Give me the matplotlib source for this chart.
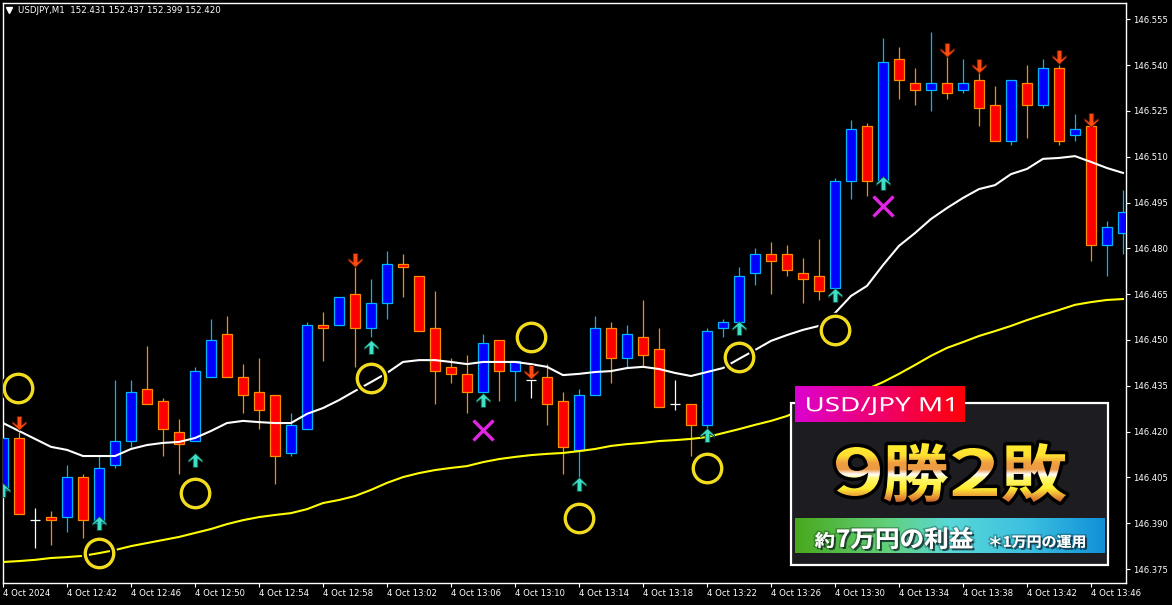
import numpy as np
import matplotlib
matplotlib.use('Agg')
import matplotlib.pyplot as plt
from matplotlib.path import Path
from matplotlib.patches import PathPatch, Rectangle
from matplotlib.textpath import TextPath
from matplotlib.font_manager import FontProperties
from matplotlib.transforms import Affine2D
from matplotlib.colors import LinearSegmentedColormap
import matplotlib.patheffects as pe

# USDJPY M1, 4 Oct 2024, bars 12:38 .. 13:48
opens = [146.401, 146.418, 146.391, 146.392, 146.392, 146.405, 146.390, 146.409, 146.417, 146.434,
         146.430, 146.420, 146.417, 146.438, 146.452, 146.438, 146.433, 146.432, 146.413, 146.421,
         146.455, 146.455, 146.465, 146.454, 146.462, 146.475, 146.471, 146.454, 146.441, 146.439,
         146.433, 146.450, 146.440, 146.437, 146.438, 146.430, 146.414, 146.432, 146.454, 146.444,
         146.451, 146.447, 146.429, 146.429, 146.422, 146.454, 146.456, 146.472, 146.478, 146.478,
         146.472, 146.471, 146.467, 146.502, 146.520, 146.502, 146.542, 146.534, 146.532, 146.534,
         146.532, 146.535, 146.527, 146.515, 146.534, 146.527, 146.539, 146.517, 146.520, 146.481,
         146.485]
highs = [146.419, 146.420, 146.395, 146.394, 146.409, 146.406, 146.412, 146.437, 146.437, 146.448,
         146.431, 146.424, 146.441, 146.457, 146.458, 146.442, 146.444, 146.432, 146.426, 146.456,
         146.459, 146.464, 146.475, 146.470, 146.479, 146.478, 146.471, 146.466, 146.444, 146.445,
         146.452, 146.450, 146.443, 146.437, 146.442, 146.433, 146.434, 146.458, 146.456, 146.455,
         146.463, 146.454, 146.437, 146.429, 146.454, 146.457, 146.474, 146.480, 146.482, 146.481,
         146.477, 146.483, 146.503, 146.522, 146.521, 146.549, 146.546, 146.539, 146.551, 146.543,
         146.542, 146.538, 146.533, 146.535, 146.540, 146.542, 146.540, 146.524, 146.521, 146.489,
         146.499]
lows = [146.400, 146.393, 146.382, 146.383, 146.387, 146.385, 146.390, 146.408, 146.415, 146.429,
        146.412, 146.406, 146.417, 146.438, 146.438, 146.426, 146.421, 146.403, 146.412, 146.421,
        146.443, 146.455, 146.441, 146.451, 146.457, 146.464, 146.453, 146.429, 146.436, 146.426,
        146.433, 146.430, 146.430, 146.431, 146.422, 146.406, 146.405, 146.432, 146.436, 146.441,
        146.441, 146.428, 146.427, 146.412, 146.421, 146.451, 146.456, 146.468, 146.465, 146.471,
        146.462, 146.463, 146.467, 146.496, 146.497, 146.502, 146.529, 146.527, 146.525, 146.529,
        146.531, 146.520, 146.515, 146.514, 146.516, 146.526, 146.514, 146.515, 146.476, 146.471,
        146.478]
closes = [146.418, 146.393, 146.391, 146.391, 146.405, 146.391, 146.408, 146.417, 146.433, 146.429,
          146.421, 146.416, 146.440, 146.450, 146.438, 146.432, 146.427, 146.412, 146.422, 146.455,
          146.454, 146.464, 146.454, 146.462, 146.475, 146.474, 146.453, 146.440, 146.439, 146.433,
          146.449, 146.440, 146.443, 146.437, 146.429, 146.415, 146.432, 146.454, 146.444, 146.452,
          146.445, 146.428, 146.429, 146.422, 146.453, 146.456, 146.471, 146.478, 146.476, 146.473,
          146.470, 146.466, 146.502, 146.519, 146.502, 146.541, 146.535, 146.532, 146.534, 146.531,
          146.534, 146.526, 146.515, 146.535, 146.527, 146.539, 146.515, 146.519, 146.481, 146.487,
          146.492]

# moving averages (white = fast, yellow = slow)
ma_fast = [146.4228, 146.4202, 146.4176, 146.4150, 146.4140, 146.4120, 146.4120, 146.4120, 146.4143, 146.4156,
           146.4163, 146.4166, 146.4179, 146.4202, 146.4228, 146.4235, 146.4231, 146.4228, 146.4228, 146.4258,
           146.4277, 146.4303, 146.4333, 146.4362, 146.4392, 146.4428, 146.4434, 146.4434, 146.4428, 146.4421,
           146.4428, 146.4428, 146.4428, 146.4421, 146.4412, 146.4385, 146.4389, 146.4395, 146.4398, 146.4408,
           146.4412, 146.4405, 146.4392, 146.4382, 146.4395, 146.4408, 146.4438, 146.4467, 146.4497, 146.4516,
           146.4533, 146.4546, 146.4588, 146.4644, 146.4677, 146.4745, 146.4808, 146.4850, 146.4896, 146.4932,
           146.4965, 146.4994, 146.5007, 146.5043, 146.5060, 146.5093, 146.5096, 146.5102, 146.5083, 146.5063,
           146.5047]
ma_slow = [146.3773, 146.3776, 146.3780, 146.3786, 146.3789, 146.3793, 146.3802, 146.3812, 146.3825, 146.3835,
           146.3845, 146.3855, 146.3868, 146.3881, 146.3897, 146.3910, 146.3920, 146.3927, 146.3933, 146.3946,
           146.3966, 146.3976, 146.3989, 146.4009, 146.4032, 146.4051, 146.4064, 146.4074, 146.4081, 146.4087,
           146.4100, 146.4110, 146.4117, 146.4123, 146.4127, 146.4130, 146.4136, 146.4143, 146.4153, 146.4159,
           146.4163, 146.4169, 146.4172, 146.4176, 146.4182, 146.4195, 146.4208, 146.4222, 146.4235, 146.4251,
           146.4274, 146.4290, 146.4307, 146.4323, 146.4339, 146.4362, 146.4389, 146.4418, 146.4448, 146.4474,
           146.4493, 146.4513, 146.4529, 146.4546, 146.4565, 146.4582, 146.4598, 146.4615, 146.4624, 146.4631,
           146.4634]

# signals
up_bars = [0, 6, 12, 23, 30, 36, 44, 46, 52, 55]
up_prices = [146.4009, 146.3901, 146.4107, 146.4477, 146.4303, 146.4028, 146.4189, 146.4539, 146.4647, 146.5014]
down_bars = [1, 22, 33, 59, 61, 66, 68]
down_prices = [146.4228, 146.4762, 146.4395, 146.5450, 146.5397, 146.5427, 146.5220]
win_bars = [0.94, 6, 12, 23, 33, 36, 44, 46, 52]
win_prices = [146.4343, 146.3802, 146.4000, 146.4375, 146.4510, 146.3917, 146.4082, 146.4444, 146.4533]
loss_bars = [30, 55]
loss_prices = [146.4205, 146.4939]

tick_bars = list(range(0, 71, 4))
tick_labels = ['4 Oct 2024', '4 Oct 12:42', '4 Oct 12:46', '4 Oct 12:50', '4 Oct 12:54', '4 Oct 12:58',
               '4 Oct 13:02', '4 Oct 13:06', '4 Oct 13:10', '4 Oct 13:14', '4 Oct 13:18', '4 Oct 13:22',
               '4 Oct 13:26', '4 Oct 13:30', '4 Oct 13:34', '4 Oct 13:38', '4 Oct 13:42', '4 Oct 13:46']
price_ticks = [146.375, 146.390, 146.405, 146.420, 146.435, 146.450, 146.465, 146.480, 146.495, 146.510,
               146.525, 146.540, 146.555]

header = 'USDJPY,M1  152.431 152.437 152.399 152.420'
tag_text = 'USD/JPY M1'

W, H = 1172, 605
BULL_EDGE = '#00B4FF'
BEAR_EDGE = '#FF8C00'

fig = plt.figure(figsize=(W / 100, H / 100), dpi=100, facecolor='black')
ax = fig.add_axes([2.5 / W, 22 / H, 1123.5 / W, 580.5 / H])
ax.set_facecolor('black')

x = np.arange(len(opens))
o, h, l, c = map(np.array, (opens, highs, lows, closes))
up = c > o + 1e-9
dn = c < o - 1e-9
dj = ~(up | dn)
bw = 0.66

ax.vlines(x[up], l[up], h[up], color=BULL_EDGE, lw=0.9, zorder=2)
ax.bar(x[up], c[up] - o[up], bottom=o[up], width=bw, color='#0000FF',
       edgecolor=BULL_EDGE, linewidth=0.9, zorder=3)
ax.vlines(x[dn], l[dn], h[dn], color=BEAR_EDGE, lw=0.9, zorder=2)
ax.bar(x[dn], o[dn] - c[dn], bottom=c[dn], width=bw, color='#FF0000',
       edgecolor=BEAR_EDGE, linewidth=0.9, zorder=3)
ax.vlines(x[dj], l[dj], h[dj], color='white', lw=0.9, zorder=2)
ax.hlines(o[dj], x[dj] - bw / 2, x[dj] + bw / 2, color='white', lw=0.9, zorder=3)

ax.plot(x, ma_fast, color='white', lw=1.5, zorder=4)
ax.plot(x, ma_slow, color='#FFFF00', lw=1.5, zorder=4)

up_arrow = Path([(0, 0.5), (0.5, 0.02), (0.5, -0.14), (0.17, 0.12), (0.17, -0.5),
                 (-0.17, -0.5), (-0.17, 0.12), (-0.5, -0.14), (-0.5, 0.02), (0, 0.5)])
down_arrow = Path([(vx, -vy) for vx, vy in up_arrow.vertices])
ax.plot(up_bars, up_prices, ls='none', marker=up_arrow, ms=10, color='#40E0C8',
        mec='#0b4a3a', mew=0.6, zorder=6)
ax.plot(down_bars, down_prices, ls='none', marker=down_arrow, ms=10, color='#FF4A10',
        mec='#5a1500', mew=0.6, zorder=6)
ax.plot(win_bars, win_prices, ls='none', marker='o', ms=20.5, mfc='none', mec='black', mew=5, zorder=5)
ax.plot(win_bars, win_prices, ls='none', marker='o', ms=20.5, mfc='none', mec='#F2DC1E', mew=2.4, zorder=5)
ax.plot(loss_bars, loss_prices, ls='none', marker='x', ms=15, mec='#E424E4', mew=2.4, zorder=6)

ax.set_xlim(-0.5 / 16, 70.19)
ax.set_ylim(146.37042, 146.5605)
for side in ('top', 'right', 'bottom', 'left'):
    ax.spines[side].set_color('white')
    ax.spines[side].set_linewidth(1)

ax.yaxis.tick_right()
ax.set_yticks(price_ticks)
ax.set_yticklabels(['%.3f' % p for p in price_ticks])
ax.set_xticks(tick_bars)
ax.set_xticklabels(tick_labels, ha='left')
ax.tick_params(axis='both', colors='white', labelcolor='white', labelsize=6.1, length=3, width=0.8)
ax.tick_params(axis='x', pad=1.5)
ax.tick_params(axis='y', pad=2)

# overlay in pixel coordinates
ov = fig.add_axes([0, 0, 1, 1])
ov.set_axis_off()
ov.patch.set_visible(False)

ov.text(18, 10.7, header, color='white', fontsize=6.2, va='center', ha='left')
ov.plot([8.5], [10.3], marker='v', ms=4.5, color='white')


def glyph_path(s, prop, x0, y0, x1, y1):
    tp = TextPath((0, 0), s, size=100, prop=prop)
    bb = tp.get_extents()
    tr = (Affine2D().translate(-bb.x0, -bb.y1)
          .scale((x1 - x0) / bb.width, -(y1 - y0) / bb.height)
          .translate(x0, y0))
    return tr.transform_path(tp)


jp_bold = FontProperties(family='Noto Sans CJK JP', weight='bold')
latin = FontProperties(family='Noto Sans', weight='normal')

# panel
ov.add_patch(Rectangle((791, 402.5), 317, 162.5, facecolor='#1c1c21', edgecolor='white', lw=1.6, zorder=1))

tag_cmap = LinearSegmentedColormap.from_list('tag', ['#DC00D0', '#FF0008'])
ov.imshow(np.linspace(0, 1, 256)[None, :], cmap=tag_cmap, extent=(795, 965, 422, 386),
          aspect='auto', zorder=2, interpolation='bilinear')
ov.add_patch(PathPatch(glyph_path(tag_text, latin, 807, 397, 953, 415), fc='white', ec='none', zorder=3))

band_cmap = LinearSegmentedColormap.from_list('band', [(0, '#48A81C'), (0.3, '#62D07C'), (0.5, '#58D8D8'),
                                                        (0.75, '#3CC0E0'), (1, '#1290D8')])
ov.imshow(np.linspace(0, 1, 256)[None, :], cmap=band_cmap, extent=(795, 1105, 553, 518),
          aspect='auto', zorder=2, interpolation='bilinear')

shadow = [pe.SimplePatchShadow(offset=(1.5, -1.5), shadow_rgbFace='#10202a', alpha=0.7),
          pe.Stroke(linewidth=2.2, foreground=(0, 0, 0, 0.25)), pe.Normal()]
for s, bx in [('約', (815, 532, 834, 548)), ('7万円の利益', (837, 527, 973, 549)),
              ('＊1万円の運用', (990, 535, 1085, 548))]:
    ov.add_patch(PathPatch(glyph_path(s, jp_bold, *bx), fc='white', ec='none', zorder=3,
                           path_effects=shadow))

# big result text with gold gradient
gold = LinearSegmentedColormap.from_list('gold', [(0, '#FFF030'), (0.22, '#FFE030'), (0.34, '#F0A040'),
                                                  (0.45, '#EC9A44'), (0.53, '#FFFFFF'), (0.6, '#FFF870'),
                                                  (0.76, '#FFEE30'), (0.88, '#EAA038'), (1, '#C85A28')])
parts = [('9', 836, 447, 880, 496), ('勝', 884, 443, 948, 502),
         ('2', 952, 448, 997, 496), ('敗', 1002, 443, 1066, 502)]
big = Path.make_compound_path(*[glyph_path(s, jp_bold, a, b, cc, d) for s, a, b, cc, d in parts])
ov.add_patch(PathPatch(big, fc='black', ec='black', lw=5, joinstyle='round', zorder=3))
clip = PathPatch(big, fc='none', ec='none', zorder=3)
ov.add_patch(clip)
im = ov.imshow(np.linspace(0, 1, 256)[:, None], cmap=gold, extent=(830, 1070, 503, 442),
               aspect='auto', zorder=4, interpolation='bilinear')
im.set_clip_path(clip)

ov.set_xlim(0, W)
ov.set_ylim(H, 0)

fig.savefig('out.png', dpi=100, facecolor='black')
